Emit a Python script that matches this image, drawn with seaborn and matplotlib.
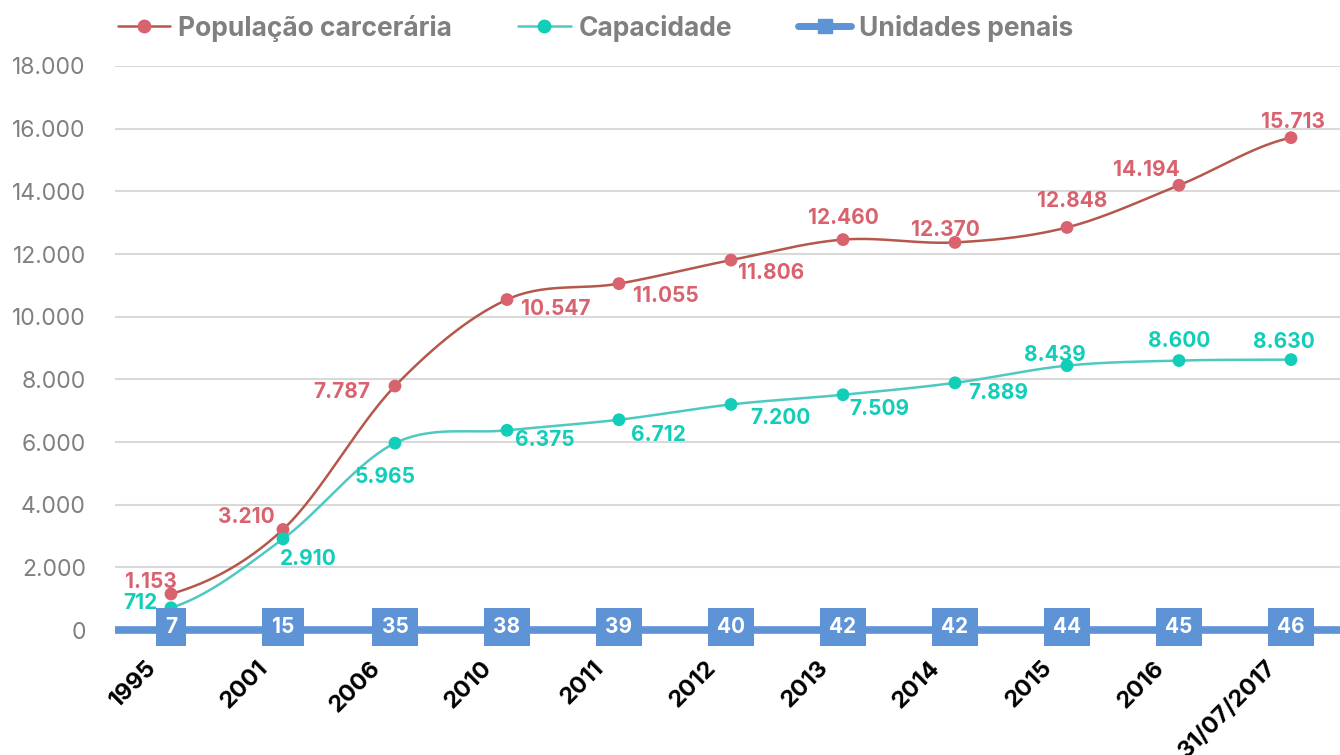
import numpy as np
import pandas as pd
import matplotlib
matplotlib.use("Agg")
import matplotlib.pyplot as plt
import matplotlib.transforms as mtrans
import seaborn as sns
from matplotlib.lines import Line2D
from matplotlib.ticker import FuncFormatter, MultipleLocator

# Data
anos = ["1995", "2001", "2006", "2010", "2011", "2012", "2013",
        "2014", "2015", "2016", "31/07/2017"]
populacao = [1153, 3210, 7787, 10547, 11055, 11806, 12460, 12370, 12848, 14194, 15713]
capacidade = [712, 2910, 5965, 6375, 6712, 7200, 7509, 7889, 8439, 8600, 8630]
unidades = [7, 15, 35, 38, 39, 40, 42, 42, 44, 45, 46]

C_POP_LINE = "#B5574B"
C_POP = "#D9626F"
C_CAP_LINE = "#4DC9C1"
C_CAP = "#12CDB8"
C_UNI = "#5E93D6"
C_GRID = "#D9D9D9"
C_TICK = "#808080"

sns.set_theme(style="white")
plt.rcParams["font.family"] = ["Inter", "DejaVu Sans"]


def fmt_br(v):
    # thousands separator with a dot, like the Portuguese original
    return f"{int(round(v)):,}".replace(",", ".")


def smooth(y, n=30):
    """Catmull-Rom curve through the points (Excel-like smoothed line)."""
    y = np.asarray(y, dtype=float)
    x = np.arange(len(y), dtype=float)
    xs, ys = [], []
    for i in range(len(y) - 1):
        p0 = y[i - 1] if i > 0 else y[i]
        p3 = y[i + 2] if i + 2 < len(y) else y[i + 1]
        p1, p2 = y[i], y[i + 1]
        t = np.linspace(0, 1, n, endpoint=False)
        seg = 0.5 * ((2 * p1) + (-p0 + p2) * t + (2 * p0 - 5 * p1 + 4 * p2 - p3) * t ** 2
                     + (-p0 + 3 * p1 - 3 * p2 + p3) * t ** 3)
        xs.append(x[i] + t)
        ys.append(seg)
    xs.append([x[-1]])
    ys.append([y[-1]])
    return np.concatenate(xs), np.concatenate(ys)


df = pd.DataFrame({"pos": np.arange(len(anos)), "ano": anos, "pop": populacao,
                   "cap": capacidade, "uni": unidades})

fig = plt.figure(figsize=(13.4, 7.55), dpi=100)
ax = fig.add_axes([0.0858, 0.1364, 0.9142, 0.7762])

# grid
ax.set_ylim(-700, 18000)
ax.set_xlim(-0.5, 10.4375)
ax.yaxis.set_major_locator(MultipleLocator(2000))
ax.grid(axis="y", color=C_GRID, lw=1.5)
ax.grid(axis="x", visible=False)
for s in ax.spines.values():
    s.set_visible(False)

# smooth lines
sx, sy = smooth(df["pop"])
sns.lineplot(x=sx, y=sy, ax=ax, color=C_POP_LINE, lw=1.8, zorder=3)
sx, sy = smooth(df["cap"])
sns.lineplot(x=sx, y=sy, ax=ax, color=C_CAP_LINE, lw=1.8, zorder=3)
sns.scatterplot(data=df, x="pos", y="pop", ax=ax, color=C_POP, s=85,
                edgecolor="none", zorder=4)
sns.scatterplot(data=df, x="pos", y="cap", ax=ax, color=C_CAP, s=85,
                edgecolor="none", zorder=4)

# units line along the bottom (values are tiny against the 18.000 scale)
ax.plot([-0.5, 10.4375], [0, 0], color=C_UNI, lw=5.5, zorder=5,
        solid_capstyle="butt", clip_on=False)
for i, u in enumerate(unidades):
    ax.annotate(str(u), (i, 0), xytext=(0, 3), textcoords="offset pixels",
                ha="center", va="center", color="white", fontsize=15,
                fontweight="bold", zorder=6,
                bbox=dict(boxstyle="square,pad=0.45", fc=C_UNI, ec="none"))

# data labels (pixel offsets from each point)
pop_off = [(-20, 12), (-37, 12), (-53, -6), (49, -9), (47, -12), (40, -13),
           (0, 22), (-10, 12), (5, 26), (-33, 15), (2, 16)]
cap_off = [(-31, 5), (25, -20), (-10, -34), (38, -10), (39, -15), (49, -14),
           (36, -14), (43, -10), (-12, 11), (0, 20), (-7, 18)]
for i in range(len(anos)):
    ax.annotate(fmt_br(populacao[i]), (i, populacao[i]), xytext=pop_off[i],
                textcoords="offset pixels", ha="center", va="center",
                color=C_POP, fontsize=15, fontweight="bold", zorder=7)
    ax.annotate(fmt_br(capacidade[i]), (i, capacidade[i]), xytext=cap_off[i],
                textcoords="offset pixels", ha="center", va="center",
                color=C_CAP, fontsize=15, fontweight="bold", zorder=7)

# axes ticks
ax.set_yticks(np.arange(0, 18001, 2000))
ax.yaxis.set_major_formatter(FuncFormatter(lambda v, p: fmt_br(v)))
ax.tick_params(axis="y", length=0, pad=21, labelsize=16.5, labelcolor=C_TICK)
ax.set_xticks(df["pos"])
ax.set_xticklabels(anos, rotation=45, ha="right", va="center", rotation_mode="anchor",
                   fontsize=17, fontweight="bold", color="black")
ax.tick_params(axis="x", length=0, pad=9)
shift = mtrans.ScaledTranslation(-18 / 100, 0, fig.dpi_scale_trans)
for lab in ax.get_xticklabels():
    lab.set_transform(lab.get_transform() + shift)
ax.set_xlabel("")
ax.set_ylabel("")

# legend
handles = [
    Line2D([], [], color=C_POP_LINE, lw=1.8, marker="o", markersize=9,
           markerfacecolor=C_POP, markeredgecolor=C_POP),
    Line2D([], [], color=C_CAP_LINE, lw=1.8, marker="o", markersize=9,
           markerfacecolor=C_CAP, markeredgecolor=C_CAP),
    Line2D([], [], color=C_UNI, lw=5, marker="s", markersize=10,
           markerfacecolor=C_UNI, markeredgecolor=C_UNI),
]
labels = ["População carcerária", "Capacidade", "Unidades penais"]
leg = fig.legend(handles, labels, loc="upper left", bbox_to_anchor=(0.070, 1.012),
                 ncol=3, frameon=False, fontsize=19, handlelength=2.0,
                 handletextpad=0.3, columnspacing=2.5)
for t in leg.get_texts():
    t.set_color(C_TICK)
    t.set_fontweight("bold")

fig.savefig("out.png", dpi=100)
plt.close(fig)
